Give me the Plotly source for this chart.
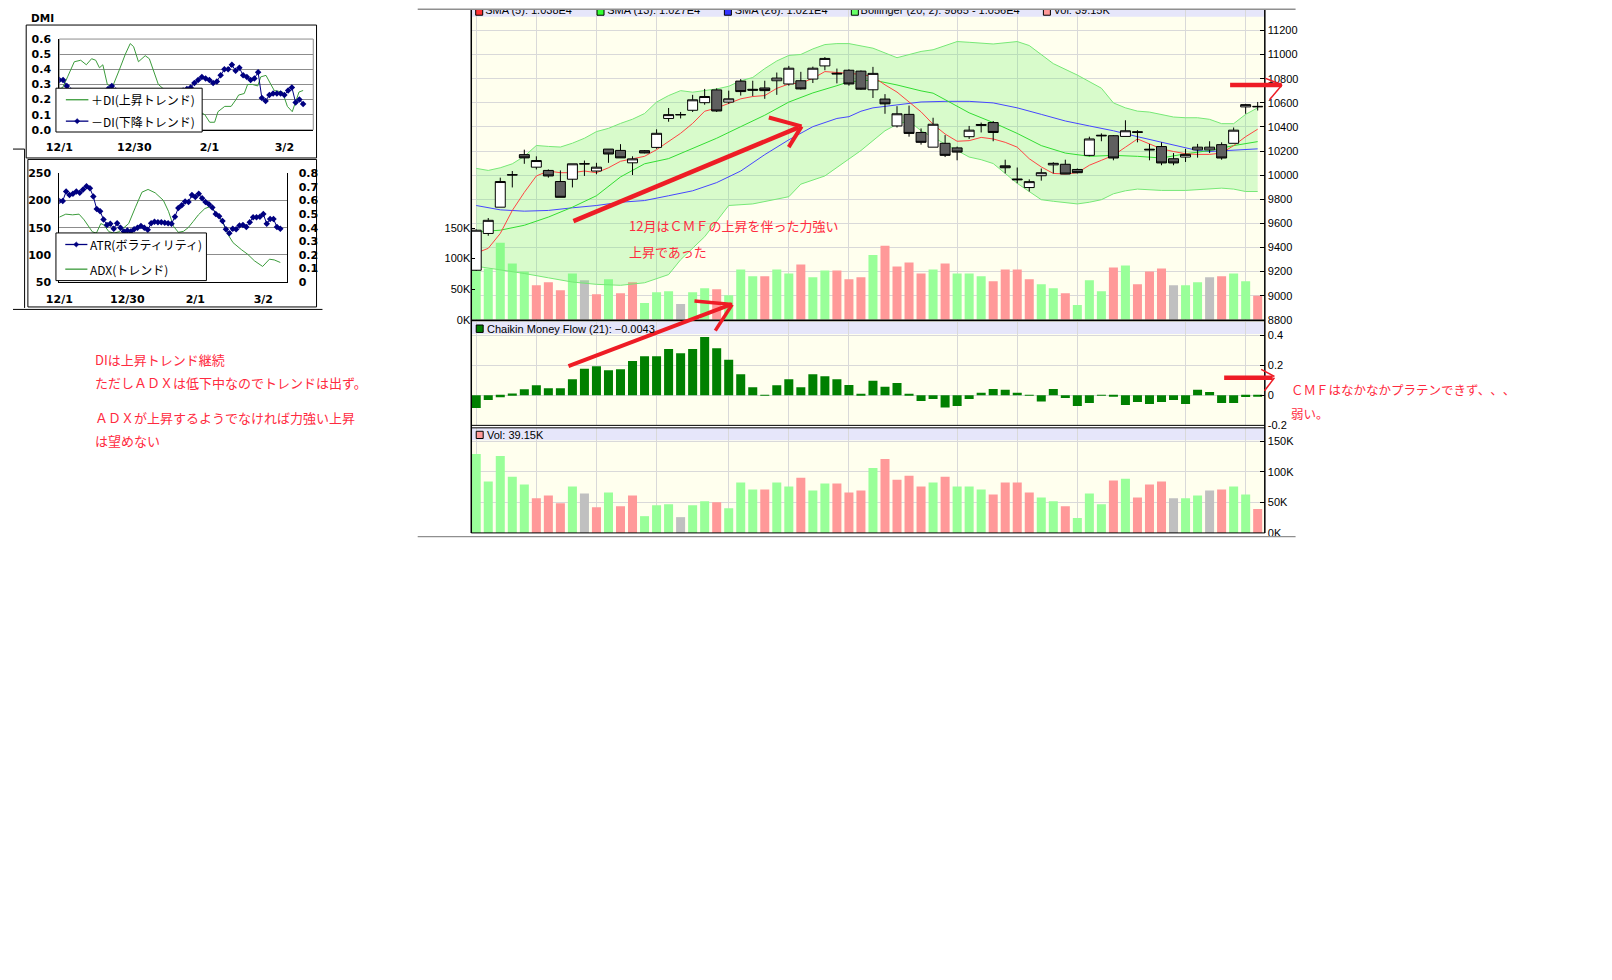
import plotly.graph_objects as go

W, H = 1612, 980


def X(p):
    return p / W


def Y(p):
    return 1 - p / H


# ======================= DATA =======================
sessions = list(range(66))          # 2009-12-01 ... 2010-03-09 trading sessions

opens = [9211, 9516, 9734, 10001, 10170, 10066, 10039, 9947, 9966, 10093,
         10034, 10216, 10205, 10102, 10203, 10230, 10470, 10500, 10538, 10601,
         10707, 10606, 10780, 10712, 10723, 10783, 10756, 10783, 10797, 10906,
         10845, 10870, 10863, 10708, 10631, 10408, 10504, 10354, 10232, 10264,
         10226, 10319, 10412, 10436, 10077, 9968, 9897, 9995, 10085, 10090,
         10047, 10164, 10325, 10327, 10321, 10360, 10215, 10237, 10136, 10150,
         10210, 10210, 10253, 10264, 10566, 10566]
highs = [9550, 9644, 9979, 10034, 10211, 10156, 10047, 10039, 10094, 10121,
         10102, 10216, 10257, 10156, 10208, 10380, 10557, 10524, 10666, 10715,
         10720, 10701, 10797, 10783, 10783, 10851, 10906, 10857, 10900, 10979,
         10884, 10878, 10868, 10898, 10672, 10572, 10577, 10387, 10476, 10332,
         10237, 10408, 10436, 10449, 10128, 10063, 9965, 10055, 10107, 10128,
         10055, 10319, 10346, 10332, 10455, 10373, 10259, 10272, 10183, 10218,
         10259, 10281, 10272, 10395, 10591, 10607]
lows = [9205, 9497, 9734, 9898, 10094, 10047, 9979, 9816, 9898, 9993,
        10007, 10102, 10143, 10001, 10181, 10219, 10443, 10470, 10524, 10584,
        10524, 10592, 10660, 10655, 10633, 10666, 10742, 10710, 10764, 10870,
        10761, 10742, 10708, 10640, 10509, 10395, 10319, 10253, 10232, 10150,
        10123, 10300, 10354, 10281, 10014, 9932, 9864, 9954, 10014, 10009,
        10014, 10156, 10281, 10123, 10321, 10272, 10123, 10082, 10082, 10109,
        10145, 10183, 10128, 10264, 10509, 10536]
closes = [9543, 9625, 9947, 10003, 10143, 10121, 9993, 9816, 10094, 10094,
          10066, 10175, 10143, 10135, 10184, 10347, 10502, 10502, 10625, 10652,
          10532, 10633, 10693, 10705, 10701, 10805, 10887, 10715, 10887, 10968,
          10840, 10756, 10713, 10844, 10591, 10509, 10346, 10272, 10422, 10164,
          10191, 10373, 10420, 10354, 10061, 9962, 9946, 10020, 10098, 10009,
          10020, 10300, 10330, 10142, 10368, 10355, 10210, 10101, 10101, 10172,
          10232, 10232, 10142, 10373, 10585, 10570]

sma5 = [9353, 9393, 9516, 9707, 9857, 9993, 10034, 10020, 10020, 10034,
        10020, 10061, 10115, 10135, 10156, 10211, 10279, 10347, 10429, 10530,
        10557, 10592, 10633, 10652, 10660, 10720, 10756, 10764, 10802, 10859,
        10851, 10840, 10836, 10817, 10749, 10689, 10607, 10525, 10422, 10341,
        10281, 10286, 10313, 10300, 10272, 10232, 10136, 10068, 10014, 10009,
        10020, 10082, 10123, 10164, 10232, 10300, 10259, 10218, 10196, 10177,
        10172, 10172, 10183, 10245, 10319, 10381]

sma13_x = [0, 2, 4, 6, 8, 10, 12, 14, 16, 18, 20, 22, 24, 26, 28, 30, 31, 33,
           35, 37, 38, 39, 41, 43, 45, 47, 49, 51, 53, 55, 57, 59, 61, 63, 65]
sma13 = [9530, 9543, 9584, 9652, 9734, 9829, 9985, 10094, 10137, 10224, 10306,
         10402, 10497, 10606, 10682, 10742, 10775, 10789, 10748, 10699, 10680,
         10626, 10517, 10436, 10346, 10245, 10183, 10156, 10164, 10156, 10142,
         10177, 10204, 10245, 10278]

sma26_x = [0, 2, 4, 6, 8, 10, 12, 14, 16, 18, 20, 22, 24, 26, 28, 30, 31, 32,
           33, 35, 37, 39, 41, 43, 45, 47, 49, 51, 53, 55, 57, 59, 60, 61, 63, 65]
sma26 = [9748, 9712, 9701, 9707, 9729, 9748, 9775, 9789, 9829, 9870, 9938,
         10034, 10170, 10293, 10402, 10470, 10485, 10530, 10558, 10585, 10607,
         10612, 10612, 10599, 10558, 10504, 10449, 10408, 10368, 10319, 10272,
         10224, 10204, 10196, 10204, 10218]

bb_up_x = list(range(34)) + [35, 37, 38, 39, 40, 41, 43, 45, 46, 48, 50, 52,
                             53, 54, 55, 56, 57, 58, 59, 60, 61, 62, 63, 64, 65]
bb_up = [10056, 10039, 10061, 10094, 10156, 10246, 10238, 10233, 10265, 10306,
         10361, 10388, 10429, 10464, 10511, 10606, 10660, 10701, 10688, 10701,
         10715, 10737, 10783, 10810, 10884, 10947, 10993, 11001, 11047, 11083,
         11091, 11091, 11075, 11053,
         10974, 11026, 11040, 11075, 11108, 11102, 11088, 11108, 11075, 10925,
         10830, 10721, 10599, 10558, 10531, 10523, 10504, 10482, 10476, 10476,
         10463, 10427, 10427, 10504, 10558]

bb_lo_x = [0, 2, 4, 6, 8, 10, 12, 14, 16, 17, 19, 21, 23, 26, 27, 29, 31, 32,
           33, 34, 35, 36, 37, 38, 39, 40, 41, 42, 43, 44, 45, 46, 47, 48, 49,
           50, 51, 52, 53, 54, 55, 56, 57, 59, 61, 62, 63, 64, 65]
bb_lo = [9244, 9216, 9184, 9148, 9113, 9094, 9086, 9107, 9175, 9298, 9489,
         9748, 9761, 9821, 9925, 9993, 10130, 10204, 10286, 10368, 10422, 10449,
         10368, 10313, 10259, 10204, 10150, 10128, 10096, 10014, 9932, 9864,
         9796, 9783, 9769, 9761, 9775, 9796, 9845, 9870, 9884, 9878, 9873, 9873,
         9886, 9892, 9884, 9864, 9864]

volume_k = [129.0, 83.9, 125.8, 91.9, 79.0, 56.5, 61.3, 48.4, 75.8, 64.5,
            41.9, 66.1, 43.5, 61.3, 27.4, 45.2, 46.8, 25.8, 45.2, 51.6,
            50.0, 40.3, 82.3, 71.0, 71.0, 82.3, 75.8, 90.3, 69.4, 80.6,
            80.6, 66.1, 69.4, 106.0, 121.0, 87.0, 93.5, 75.8, 82.3, 91.9,
            75.8, 75.8, 71.0, 62.9, 82.3, 82.3, 66.1, 58.0, 51.6, 43.5,
            24.2, 64.5, 46.8, 85.5, 88.7, 58.0, 79.0, 83.9, 56.5, 56.5,
            61.3, 69.4, 71.0, 75.8, 62.9, 39.15]
volume_dir = ['U', 'U', 'U', 'U', 'U', 'D', 'D', 'D', 'U', 'N',
              'D', 'U', 'D', 'D', 'U', 'U', 'U', 'N', 'U', 'U',
              'D', 'U', 'U', 'U', 'D', 'U', 'U', 'D', 'U', 'U',
              'D', 'D', 'D', 'U', 'D', 'D', 'D', 'D', 'U', 'D',
              'U', 'U', 'U', 'D', 'D', 'D', 'D', 'U', 'U', 'D',
              'U', 'U', 'U', 'D', 'U', 'D', 'D', 'D', 'N', 'U',
              'U', 'N', 'D', 'U', 'U', 'D']

cmf = [-0.084, -0.031, -0.013, 0.011, 0.040, 0.067, 0.047, 0.047, 0.107, 0.176,
       0.193, 0.167, 0.173, 0.227, 0.260, 0.260, 0.307, 0.280, 0.307, 0.387,
       0.313, 0.236, 0.140, 0.053, 0.002, 0.067, 0.107, 0.053, 0.140, 0.127,
       0.107, 0.068, 0.008, 0.096, 0.056, 0.082, 0.009, -0.038, -0.024, -0.082,
       -0.071, -0.024, 0.016, 0.042, 0.036, 0.016, 0.002, -0.042, 0.042, -0.018,
       -0.071, -0.051, 0.002, -0.009, -0.064, -0.044, -0.058, -0.044, -0.031, -0.058,
       0.036, 0.022, -0.051, -0.051, -0.011, -0.0043]

grid_sessions = [0, 5, 10, 15, 21, 26, 31, 40, 45, 50, 59, 64]
price_ticks = [8800, 9000, 9200, 9400, 9600, 9800, 10000, 10200, 10400,
               10600, 10800, 11000, 11200]
price_ticktext = ['8800', '9000', '9200', '9400', '9600', '9800', '10000',
                  '10200', '10400', '10600', '10800', '11000', '11200']
vol_ticks = [0, 50, 100, 150]
vol_ticktext = ['0K', '50K', '100K', '150K']
cmf_ticks = [-0.2, 0, 0.2, 0.4]
cmf_ticktext = ['-0.2', '0', '0.2', '0.4']

main_legend = ['SMA (5): 1.038E4', 'SMA (13): 1.027E4', 'SMA (26): 1.021E4',
               'Bollinger (20, 2): 9865 - 1.056E4', 'Vol: 39.15K']
cmf_legend = 'Chaikin Money Flow (21): \u22120.0043'
vol_legend = 'Vol: 39.15K'

# ---- inset charts (DMI / ATR-ADX) ----
minus_di = [0.33, 0.33, 0.29, 0.26, 0.24, 0.23, 0.22, 0.24, 0.23, 0.22,
            0.21, 0.23, 0.25, 0.27, 0.29, 0.26, 0.22, 0.19, 0.16, 0.15,
            0.15, 0.17, 0.18, 0.18, 0.19, 0.21, 0.22, 0.22, 0.23, 0.23,
            0.24, 0.25, 0.25, 0.26, 0.27, 0.28, 0.31, 0.33, 0.35, 0.34,
            0.33, 0.31, 0.32, 0.36, 0.40, 0.40, 0.43, 0.39, 0.41, 0.36,
            0.35, 0.33, 0.34, 0.38, 0.21, 0.19, 0.23, 0.24, 0.24, 0.24,
            0.23, 0.26, 0.28, 0.18, 0.20, 0.17]
plus_di_x = [0, 0.9, 2.2, 4.0, 5.7, 7.2, 8.6, 9.7, 10.7, 11.6, 12.8, 14.1, 15.9,
             17.6, 18.9, 19.8, 21.1, 22.9, 24.0, 25.1, 26.4, 27.8, 30.0, 32.6,
             35.2, 37.4, 38.8, 40.1, 41.4, 42.3, 44.1, 45.8, 47.1, 47.8, 49.3,
             50.2, 51.5, 52.9, 53.7, 55.1, 56.4, 57.3, 59.5, 60.8, 62.1, 63.3,
             63.9, 65.0]
plus_di = [0.27, 0.28, 0.35, 0.45, 0.46, 0.43, 0.47, 0.46, 0.41, 0.43, 0.30,
           0.28, 0.39, 0.50, 0.57, 0.55, 0.45, 0.49, 0.47, 0.39, 0.30, 0.27,
           0.22, 0.18, 0.15, 0.12, 0.10, 0.05, 0.05, 0.12, 0.155, 0.155, 0.20,
           0.23, 0.24, 0.30, 0.30, 0.29, 0.35, 0.36, 0.30, 0.26, 0.25, 0.155,
           0.12, 0.21, 0.25, 0.26]
atr = [199, 199, 216, 210, 212, 216, 214, 220, 226, 222,
       207, 184, 180, 165, 155, 157, 148, 158, 150, 143,
       145, 143, 147, 150, 153, 150, 146, 158, 161, 160,
       160, 159, 158, 157, 170, 186, 191, 198, 197, 210,
       206, 212, 204, 197, 193, 187, 175, 171, 162, 147,
       140, 148, 147, 154, 155, 151, 160, 169, 169, 170,
       175, 157, 166, 166, 151, 148]
adx_x = [0, 1.9, 3.9, 5.8, 7.3, 8.6, 9.7, 10.9, 12.2, 13.1, 14.6, 16.1, 17.5,
         19.0, 20.4, 22.4, 24.3, 26.1, 28.2, 30.6, 32.1, 33.6, 35.0, 36.5, 37.9,
         39.4, 40.9, 42.8, 44.3, 45.2, 46.7, 48.2, 49.6, 51.1, 53.5, 55.4, 57.4,
         59.8, 61.8, 63.2, 65.0]
adx = [0.477, 0.499, 0.494, 0.499, 0.457, 0.414, 0.37, 0.36, 0.43, 0.42,
       0.37, 0.36, 0.37, 0.40, 0.43, 0.55, 0.66, 0.68, 0.655, 0.60,
       0.52, 0.41, 0.366, 0.373, 0.40, 0.446, 0.494, 0.54, 0.554, 0.535,
       0.48, 0.434, 0.35, 0.29, 0.24, 0.205, 0.157, 0.116, 0.169, 0.164, 0.145]
inset_ticks = [0, 20, 40, 60]
inset_ticktext = ['12/1', '12/30', '2/1', '3/2']
dmi_ticks = [0, 0.1, 0.2, 0.3, 0.4, 0.5, 0.6]
dmi_ticktext = ['0.0', '0.1', '0.2', '0.3', '0.4', '0.5', '0.6']
atr_ticks = [50, 100, 150, 200, 250]
atr_ticktext = ['50', '100', '150', '200', '250']
adx_ticks = [0, 0.1, 0.2, 0.3, 0.4, 0.5, 0.6, 0.7, 0.8]
adx_ticktext = ['0', '0.1', '0.2', '0.3', '0.4', '0.5', '0.6', '0.7', '0.8']

notes_left = ['DIは上昇トレンド継続', 'ただしＡＤＸは低下中なのでトレンドは出ず。',
              'ＡＤＸが上昇するようでなければ力強い上昇', 'は望めない']
notes_main = ['12月はＣＭＦの上昇を伴った力強い', '上昇であった']
notes_right = ['ＣＭＦはなかなかプラテンできず、\u200b、\u200b、', '弱い。']

# ======================= STYLE =======================
FONT = 'Liberation Sans, Arial, sans-serif'
FONT_JP = 'Noto Sans CJK JP'
FONT_XL = 'DejaVu Sans'
GRID = '#d9d9d9'
IVORY = '#ffffee'
BAND = '#e6e6fa'
RED = '#ee1c25'
NOTE_RED = '#ff2a40'
XL_GREEN = '#3b9b3b'
NAVY = '#000080'

PL, PR = 462, 1262                     # main plot left / right pixel
P1 = (4, 318)                          # price panel top/bottom
P2 = (320, 425)                        # CMF panel
P3 = (427.5, 534)                      # volume panel
X0, DX = 467, 12.12                    # session 0 pixel, pixels per session
XR = [(PL - X0) / DX, (PR - X0) / DX]
PX_PER_PRICE = 293.2 / 2400            # 8800 at y=318, 11200 at y=24.8
PX_PER_VOLK = 0.62


def sx(px):
    return (px - X0) / DX


def sp(py):
    return 8800 + (318 - py) / PX_PER_PRICE


PRICE_RANGE = [8800, sp(P1[0])]
VOL_OVER_RANGE = [0, (318 - P1[0]) / PX_PER_VOLK]

vol_palette = {'U': '#99ff99', 'D': '#ff9999', 'N': '#c0c0c0'}
vol_colors = [vol_palette[d] for d in volume_dir]

fig = go.Figure()

# ---- price panel: volume overlay (base axis y) ----
fig.add_trace(go.Bar(x=sessions, y=volume_k, width=0.75,
                     marker=dict(color=vol_colors, line=dict(width=0)),
                     xaxis='x', yaxis='y', hoverinfo='skip'))
# ---- bollinger + SMAs (axis y2) ----
fig.add_trace(go.Scatter(x=bb_up_x, y=bb_up, mode='lines',
                         line=dict(color='#77e877', width=1),
                         xaxis='x', yaxis='y2', hoverinfo='skip'))
fig.add_trace(go.Scatter(x=bb_lo_x, y=bb_lo, mode='lines', fill='tonexty',
                         fillcolor='rgba(100,240,100,0.25)',
                         line=dict(color='#77e877', width=1),
                         xaxis='x', yaxis='y2', hoverinfo='skip'))
fig.add_trace(go.Scatter(x=sma26_x, y=sma26, mode='lines',
                         line=dict(color='#4646ff', width=1),
                         xaxis='x', yaxis='y2', hoverinfo='skip'))
fig.add_trace(go.Scatter(x=sma13_x, y=sma13, mode='lines',
                         line=dict(color='#33dd33', width=1),
                         xaxis='x', yaxis='y2', hoverinfo='skip'))
fig.add_trace(go.Scatter(x=sessions, y=sma5, mode='lines',
                         line=dict(color='#ff4444', width=1),
                         xaxis='x', yaxis='y2', hoverinfo='skip'))
# ---- candles (axis y3, on top) ----
fig.add_trace(go.Candlestick(
    x=sessions, open=opens, high=highs, low=lows, close=closes,
    increasing=dict(line=dict(color='black', width=1), fillcolor='white'),
    decreasing=dict(line=dict(color='black', width=1), fillcolor='#5f5f5f'),
    whiskerwidth=0, xaxis='x', yaxis='y3', hoverinfo='skip'))

# ---- legend strip of the price panel (its top is cut off, as in the reference) ----
leg_sq_px = [470, 592.3, 720.7, 848.7, 1042.3]
leg_tx_px = [476, 599, 727.5, 854.5, 1049]
leg_colors = ['#ff3333', '#33ff33', '#3333ff', '#66ff66', '#ff9999']
fig.add_trace(go.Scatter(
    x=[sx(p) for p in leg_sq_px], y=[sp(5.8)] * 5, mode='markers',
    marker=dict(symbol='square', size=7, color=leg_colors,
                line=dict(color='black', width=1)),
    xaxis='x', yaxis='y3', cliponaxis=True, hoverinfo='skip'))
fig.add_trace(go.Scatter(
    x=[sx(p) for p in leg_tx_px], y=[sp(5.3)] * 5, mode='text',
    text=main_legend, textposition='middle right',
    textfont=dict(family=FONT, size=11, color='black'),
    xaxis='x', yaxis='y3', cliponaxis=True, hoverinfo='skip'))

# ---- CMF panel ----
fig.add_trace(go.Bar(x=sessions, y=cmf, width=0.75,
                     marker=dict(color='#008000', line=dict(width=0)),
                     xaxis='x2', yaxis='y4', hoverinfo='skip'))
# ---- volume panel ----
fig.add_trace(go.Bar(x=sessions, y=volume_k, width=0.75,
                     marker=dict(color=vol_colors, line=dict(width=0)),
                     xaxis='x3', yaxis='y5', hoverinfo='skip'))

# ---- DMI inset ----
fig.add_trace(go.Scatter(x=plus_di_x, y=plus_di, mode='lines',
                         line=dict(color=XL_GREEN, width=1),
                         xaxis='x4', yaxis='y6', hoverinfo='skip'))
fig.add_trace(go.Scatter(x=sessions, y=minus_di, mode='lines+markers',
                         line=dict(color=NAVY, width=1),
                         marker=dict(symbol='diamond', size=5, color=NAVY),
                         xaxis='x4', yaxis='y6', hoverinfo='skip'))
# ---- ATR / ADX inset ----
fig.add_trace(go.Scatter(x=adx_x, y=adx, mode='lines',
                         line=dict(color=XL_GREEN, width=1),
                         xaxis='x5', yaxis='y7', hoverinfo='skip'))
fig.add_trace(go.Scatter(x=sessions, y=atr, mode='lines+markers',
                         line=dict(color=NAVY, width=1),
                         marker=dict(symbol='diamond', size=5, color=NAVY),
                         xaxis='x5', yaxis='y8', hoverinfo='skip'))

# ======================= AXES =======================
tfont = dict(family=FONT, size=11, color='black')
xlfont = dict(family=FONT_XL, size=11, color='black', weight='bold')


def main_x(anchor):
    return dict(domain=[X(PL), X(PR)], range=XR, anchor=anchor,
                tickvals=grid_sessions, showticklabels=False, ticks='',
                showgrid=True, gridcolor=GRID, gridwidth=1, zeroline=False,
                showline=False, fixedrange=True)


layout = dict(
    width=W, height=H, margin=dict(l=0, r=0, t=0, b=0), autosize=False,
    paper_bgcolor='white', plot_bgcolor='rgba(0,0,0,0)',
    showlegend=False, hovermode=False, barmode='overlay',
    boxgap=0.09, boxgroupgap=0.09,
    xaxis=dict(main_x('y'), rangeslider=dict(visible=False)),
    yaxis=dict(domain=[Y(P1[1]), Y(P1[0])], range=VOL_OVER_RANGE, anchor='x',
               side='left', tickvals=vol_ticks, ticktext=vol_ticktext,
               showgrid=False, zeroline=False, ticks='inside', ticklen=4,
               tickcolor='black', tickfont=tfont, ticklabelstandoff=0,
               showline=False),
    yaxis2=dict(overlaying='y', anchor='x', side='right', range=PRICE_RANGE,
                tickvals=price_ticks, ticktext=price_ticktext,
                showgrid=True, gridcolor=GRID,
                zeroline=False, ticks='inside', ticklen=5, tickcolor='black',
                tickfont=tfont, ticklabelstandoff=2, showline=False),
    yaxis3=dict(overlaying='y', anchor='x', range=PRICE_RANGE, visible=False),
    xaxis2=main_x('y4'),
    yaxis4=dict(domain=[Y(P2[1]), Y(P2[0])], range=[-0.2, 0.4885], anchor='x2',
                side='right', tickvals=cmf_ticks, ticktext=cmf_ticktext,
                showgrid=True, gridcolor=GRID, zeroline=False, ticks='inside',
                ticklen=5, tickcolor='black', tickfont=tfont,
                ticklabelstandoff=2, showline=False),
    xaxis3=main_x('y5'),
    yaxis5=dict(domain=[Y(P3[1]), Y(P3[0])], range=[0, 171.8], anchor='x3',
                side='right', tickvals=vol_ticks, ticktext=vol_ticktext,
                showgrid=True, gridcolor=GRID, zeroline=False, ticks='inside',
                ticklen=5, tickcolor='black', tickfont=tfont,
                ticklabelstandoff=2, showline=False),
    # DMI inset
    xaxis4=dict(domain=[X(46.7), X(302.7)], range=[0, 67.7], anchor='y6',
                tickvals=inset_ticks, ticktext=inset_ticktext, ticks='',
                showgrid=False, zeroline=False, showline=True,
                linecolor='black', linewidth=1, tickfont=xlfont,
                ticklabelstandoff=7),
    yaxis6=dict(domain=[Y(125.5), Y(33.5)], range=[0, 0.6], anchor='x4',
                tickvals=dmi_ticks, ticktext=dmi_ticktext, ticks='',
                showgrid=True, gridcolor='#8c8c8c', zeroline=False,
                showline=True, linecolor='black', linewidth=1,
                tickfont=xlfont, ticklabelstandoff=5),
    # ATR / ADX inset
    xaxis5=dict(domain=[X(46.7), X(276.7)], range=[0, 67.1], anchor='y7',
                tickvals=inset_ticks, ticktext=inset_ticktext, ticks='',
                showgrid=False, zeroline=False, showline=True,
                linecolor='black', linewidth=1, tickfont=xlfont,
                ticklabelstandoff=7),
    yaxis7=dict(domain=[Y(280), Y(169.3)], range=[0, 0.8], anchor='x5',
                side='right', tickvals=adx_ticks, ticktext=adx_ticktext,
                ticks='', showgrid=False, zeroline=False, showline=True,
                linecolor='black', linewidth=1, tickfont=xlfont,
                ticklabelstandoff=8),
    yaxis8=dict(overlaying='y7', anchor='x5', side='left', range=[50, 250],
                tickvals=atr_ticks, ticktext=atr_ticktext, ticks='',
                showgrid=True, gridcolor='#8c8c8c', zeroline=False,
                showline=True, linecolor='black', linewidth=1,
                tickfont=xlfont, ticklabelstandoff=5),
)

# ======================= SHAPES =======================
shapes = []


def rect(x0, y0, x1, y1, fill='rgba(0,0,0,0)', lc='rgba(0,0,0,0)', lw=0,
         layer='below'):
    shapes.append(dict(type='rect', xref='paper', yref='paper',
                       x0=X(x0), x1=X(x1), y0=Y(y1), y1=Y(y0),
                       fillcolor=fill, line=dict(color=lc, width=lw),
                       layer=layer))


def seg(x0, y0, x1, y1, color='black', width=1, layer='above'):
    shapes.append(dict(type='line', xref='paper', yref='paper',
                       x0=X(x0), y0=Y(y0), x1=X(x1), y1=Y(y1),
                       line=dict(color=color, width=width), layer=layer))


def diamond(cx, cy, r, color):
    path = 'M {} {} L {} {} L {} {} L {} {} Z'.format(
        X(cx - r), Y(cy), X(cx), Y(cy - r), X(cx + r), Y(cy), X(cx), Y(cy + r))
    shapes.append(dict(type='path', xref='paper', yref='paper', path=path,
                       fillcolor=color, line=dict(color=color, width=0.5),
                       layer='above'))


# panel backgrounds and legend bands
rect(PL, P1[0], PR, P1[1], fill=IVORY)
rect(PL, P2[0] - 1, PR, P2[1], fill=IVORY)
rect(PL, P3[0], PR, P3[1], fill=IVORY)
rect(PL, P1[0], PR, 11, fill=BAND)
rect(PL, P2[0], PR, 332.5, fill=BAND)
rect(PL, P3[0], PR, 440, fill=BAND)
# inset plot-area border
rect(46.7, 33.5, 302.7, 125.5, lc='#8c8c8c', lw=1)

# panel frame lines
seg(PL, P1[0], PL, P3[1], 'black', 1.5)
seg(PR, P1[0], PR, P3[1], 'black', 1.5)
seg(PL, 318.6, PR, 318.6, 'black', 1.6)
seg(PL, 425, PR, 425, 'black', 1)
seg(PL, 427.5, PR, 427.5, 'black', 1)
seg(PL, P3[1], PR, P3[1], 'black', 1)
# grey frame lines of the pasted chart
seg(408, 3.3, 1293, 3.3, '#8f8f8f', 1.3)
seg(408, 537.7, 1293, 537.7, '#8f8f8f', 1.3)

# panel legend swatches (CMF, Vol)
rect(467, 323.3, 474, 330.8, fill='#008000', lc='black', lw=1, layer='above')
rect(467, 431, 474, 438.3, fill='#ff9999', lc='black', lw=1, layer='above')

# inset frames
rect(13.3, 19.3, 306, 154, lc='black', lw=1, layer='above')
rect(15, 155.5, 306, 305, lc='black', lw=1, layer='above')
seg(11.7, 145, 11.7, 306, 'black', 1)
seg(0, 145, 11.7, 145, 'black', 1)
seg(0, 307.5, 312, 307.5, 'black', 1)

# inset legends
rect(43.3, 83.3, 190.7, 127.7, fill='white', lc='black', lw=1, layer='above')
seg(53.3, 95, 76, 95, XL_GREEN, 1.3)
seg(53.3, 116.7, 76, 116.7, NAVY, 1.3)
diamond(64.7, 116.7, 2.6, NAVY)
rect(43.3, 230, 195, 278.3, fill='white', lc='black', lw=1, layer='above')
seg(52.7, 241.7, 75, 241.7, NAVY, 1.3)
diamond(63.8, 241.7, 2.6, NAVY)
seg(52.7, 266.7, 75, 266.7, XL_GREEN, 1.3)

# red hand-drawn arrows
seg(565, 218, 792, 123, RED, 4.5)
seg(762, 113, 795, 122, RED, 4)
seg(795, 122, 782, 143, RED, 4)
seg(560, 365, 724, 302.5, RED, 4)
seg(687, 299, 725, 302.5, RED, 3.5)
seg(725, 302.5, 708, 329, RED, 3.5)
seg(1227, 80, 1279, 80, RED, 4.5)
seg(1262.7, 73.3, 1279.3, 80, RED, 1.5)
seg(1279.3, 80, 1266.7, 95, RED, 1.5)
seg(1221, 376.7, 1270, 376.7, RED, 4.5)
seg(1258.3, 368.3, 1271.7, 375.5, RED, 1.5)
seg(1271.7, 376.7, 1261.7, 390, RED, 1.5)

layout['shapes'] = shapes

# ======================= ANNOTATIONS =======================
ann = []


def text(x, y, s, size, color='black', family=FONT, weight='normal'):
    ann.append(dict(xref='paper', yref='paper', x=X(x), y=Y(y), text=s,
                    showarrow=False, xanchor='left', yanchor='middle',
                    borderpad=0,
                    font=dict(family=family, size=size, color=color,
                              weight=weight)))


text(477, 327.3, cmf_legend, 11)
text(477, 434.7, vol_legend, 11)
text(17.5, 12.2, 'DMI', 10.5, family=FONT_XL, weight='bold')
text(77.5, 95, '＋DI(上昇トレンド)', 12, family=FONT_JP)
text(77.5, 116.7, '－DI(下降トレンド)', 12, family=FONT_JP)
text(76.5, 241.7, 'ATR(ボラティリティ)', 12, family=FONT_JP)
text(76.5, 266.7, 'ADX(トレンド)', 12, family=FONT_JP)
for s, yy in zip(notes_left, [358.3, 381.7, 417.3, 440]):
    text(81.5, yy, s, 13, NOTE_RED, FONT_JP)
for s, yy in zip(notes_main, [222.5, 248.3]):
    text(620.5, yy, s, 13, NOTE_RED, FONT_JP)
for s, yy in zip(notes_right, [388.3, 413.3]):
    text(1287, yy, s, 12.5, NOTE_RED, FONT_JP)

layout['annotations'] = ann
fig.update_layout(layout)

# the page body normally has an 8px margin; the chart is laid out edge to edge
fig.write_html("out.html", config={'displayModeBar': False},
               post_script="document.body.style.margin='0px';"
                           "document.body.style.overflow='hidden';")
